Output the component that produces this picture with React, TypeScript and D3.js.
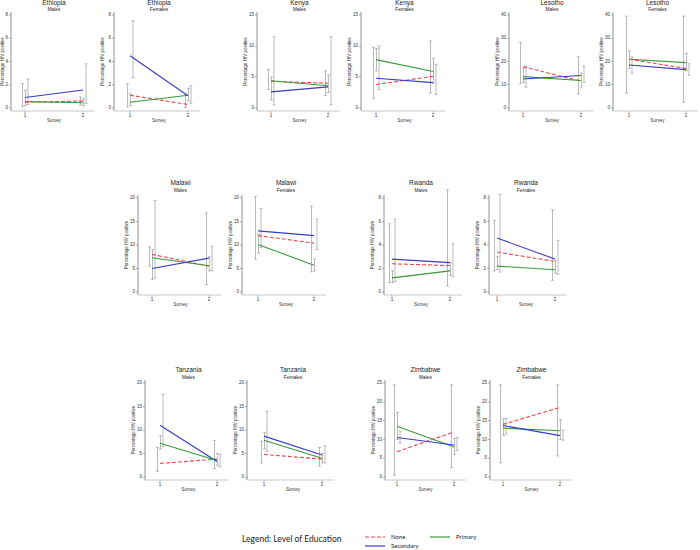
import React from "react";
import * as d3 from "d3";

// ---- data ----
const countries = ["Ethiopia", "Ethiopia", "Kenya", "Kenya", "Lesotho", "Lesotho", "Malawi", "Malawi", "Rwanda", "Rwanda", "Tanzania", "Tanzania", "Zimbabwe", "Zimbabwe"];
const sexes = ["Males", "Females", "Males", "Females", "Males", "Females", "Males", "Females", "Males", "Females", "Males", "Females", "Males", "Females"];
const yMaxes = [8, 8, 15, 15, 40, 40, 20, 20, 8, 8, 20, 20, 25, 25];
const ySteps = [2, 2, 5, 5, 10, 10, 5, 5, 2, 2, 5, 5, 5, 5];
const surveys = [1, 2];

const noneVals = [[0.5, 0.6], [1.1, 0.3], [4.3, 4.0], [3.8, 5.1], [17.8, 11.5], [21, 17], [8.0, 5.5], [12, 10.4], [2.4, 2.25], [3.4, 2.6], [2.9, 3.8], [4.8, 3.8], [6.7, 12], [14, 18.5]];
const primaryVals = [[0.55, 0.45], [0.5, 1.1], [4.4, 3.6], [7.8, 5.9], [13.5, 11.8], [21, 19.5], [7.3, 5.6], [10.1, 5.7], [1.2, 1.8], [2.2, 1.9], [7.2, 3.5], [7.8, 4.0], [13.5, 8.0], [13.0, 12.3]];
const secondaryVals = [[0.9, 1.55], [4.5, 1.05], [2.6, 3.4], [4.8, 4.1], [12.5, 14], [18.5, 16.5], [5.0, 7.2], [13, 12], [2.8, 2.5], [4.6, 2.8], [11, 3.3], [8.7, 4.7], [10.5, 8.5], [13.7, 11.0]];

const noneCI = [[[0.15, 2.1], [0.25, 0.95]], [[0.1, 2.1], [0.05, 1.2]], [[3.0, 6.2], [2.0, 6.0]], [[1.5, 9.8], [2.4, 10.8]], [[10.5, 28.2], [6, 22]], [[6.5, 39.5], [2.5, 39.5]], [[5.5, 9.6], [1.6, 16.8]], [[7, 20.3], [4.3, 18.3]], [[0.8, 5.8], [0.5, 8.7]], [[1.8, 6.1], [1.0, 7.0]], [[1.2, 6.3], [1.8, 7.8]], [[3.0, 7.6], [2.3, 6.3]], [[0.5, 24.5], [2.5, 24.5]], [[3.8, 24.5], [5.6, 24.5]]];
const primaryCI = [[[0.2, 1.5], [0.2, 0.8]], [[0.2, 1.2], [0.6, 1.7]], [[1.3, 5.0], [2.5, 5.3]], [[6.0, 9.6], [4.0, 8.0]], [[11, 17], [9, 15]], [[17, 24.5], [16, 23.5]], [[2.7, 9.0], [4.5, 7.5]], [[8.3, 12.3], [4.5, 7.0]], [[0.8, 1.8], [1.4, 2.5]], [[1.9, 3.0], [1.6, 2.7]], [[6.0, 8.8], [2.5, 5.0]], [[6.0, 9.5], [3.0, 5.0]], [[10, 17.2], [6, 10.3]], [[11, 15.5], [10, 15.3]]];
const secondaryCI = [[[0.3, 2.5], [0.4, 3.8]], [[2.6, 7.5], [0.4, 1.9]], [[0.5, 11.5], [0.5, 11.5]], [[3.0, 10.0], [2.2, 7.0]], [[9, 18], [11, 18]], [[15, 22], [14, 19]], [[3.0, 19.5], [4.5, 9.7]], [[9.5, 17.8], [9, 15.5]], [[0.9, 6.2], [1.3, 4.1]], [[1.7, 8.3], [1.5, 4.4]], [[6.5, 17.6], [2.2, 4.8]], [[5.5, 14], [3.0, 6.6]], [[9, 12.2], [7, 10.5]], [[11.5, 15.6], [9.8, 12.5]]];

const legendNames = ["None", "Primary", "Secondary"];
const legendTitle = "Legend: Level of Education";

// ---- layout ----
const panelAxisX = [11, 114, 257, 361, 509, 613, 138, 242, 384, 489, 145, 247, 385, 490];
const panelP1 = [25, 130, 271, 376, 523, 629, 152, 258, 392, 497, 160, 264, 397, 503];
const panelP2 = [83, 188, 328, 433, 581, 686, 209, 314, 450, 555, 217, 322, 454, 560];
const panelRow = [0, 0, 0, 0, 0, 0, 1, 1, 1, 1, 2, 2, 2, 2];
const rowTitleY = [3.2, 183.5, 370.5];
const rowSubY = [10, 191, 377.5];
const rowTop = [15, 198, 383];
const rowZero = [108, 292, 477];

const COLORS: Record<string, string> = { None: "#e5484d", Primary: "#3a9a3a", Secondary: "#3b3bc4" };
const DASH: Record<string, string | undefined> = { None: "4,2", Primary: undefined, Secondary: undefined };
const CI_OFFSET: Record<string, number> = { None: -2.5, Primary: 0.5, Secondary: 3 };
const FONT = "'Liberation Sans', Arial, sans-serif";

function Panel({ i }: { i: number }) {
  const r = panelRow[i];
  const y = d3.scaleLinear().domain([0, yMaxes[i]]).range([rowZero[r], rowTop[r]]);
  const x = d3.scaleLinear().domain([1, 2]).range([panelP1[i], panelP2[i]]);
  const ax = panelAxisX[i];
  const ticks = d3.range(0, yMaxes[i] + 0.001, ySteps[i]);
  const series = [
    { name: "None", vals: noneVals[i], ci: noneCI[i] },
    { name: "Primary", vals: primaryVals[i], ci: primaryCI[i] },
    { name: "Secondary", vals: secondaryVals[i], ci: secondaryCI[i] },
  ];
  const line = d3.line<number>().x((_, k) => x(surveys[k])).y((v) => y(v));
  const cx = (panelP1[i] + panelP2[i]) / 2;
  const midY = (rowTop[r] + rowZero[r]) / 2;
  return (
    <g>
      <text x={cx} y={rowTitleY[r]} textAnchor="middle" dominantBaseline="middle" fontSize={6.5} fill="#222" fontFamily={FONT}>{countries[i]}</text>
      <text x={cx} y={rowSubY[r]} textAnchor="middle" dominantBaseline="middle" fontSize={4.8} fill="#222" fontFamily={FONT}>{sexes[i]}</text>
      {/* y axis */}
      <line x1={ax} x2={ax} y1={rowTop[r] - 3} y2={rowZero[r] + 3} stroke="#777" strokeWidth={0.8} />
      {ticks.map((t) => (
        <g key={t}>
          <line x1={ax - 2} x2={ax} y1={y(t)} y2={y(t)} stroke="#777" strokeWidth={0.6} />
          <text x={ax - 3} y={y(t)} textAnchor="end" dominantBaseline="middle" fontSize={4.5} fill="#333" fontFamily={FONT}>{t}</text>
        </g>
      ))}
      <text transform={`translate(${Math.max(ax - 11, 2.5)},${midY}) rotate(-90)`} textAnchor="middle" dominantBaseline="middle" fontSize={4.5} fill="#333" fontFamily={FONT}>Percentage HIV positive</text>
      {/* x axis */}
      <line x1={ax} x2={panelP2[i] + 12} y1={rowZero[r] + 3} y2={rowZero[r] + 3} stroke="#bbb" strokeWidth={0.8} />
      {surveys.map((s) => (
        <g key={s}>
          <line x1={x(s)} x2={x(s)} y1={rowZero[r] + 3} y2={rowZero[r] + 5} stroke="#999" strokeWidth={0.6} />
          <text x={x(s)} y={rowZero[r] + 8} textAnchor="middle" dominantBaseline="middle" fontSize={4.5} fill="#333" fontFamily={FONT}>{s}</text>
        </g>
      ))}
      <text x={cx} y={rowZero[r] + 12.5} textAnchor="middle" dominantBaseline="middle" fontSize={4.5} fill="#333" fontFamily={FONT}>Survey</text>
      {/* error bars */}
      {series.map((se) =>
        surveys.map((s, k) => {
          const ex = x(s) + CI_OFFSET[se.name];
          const [lo, hi] = se.ci[k];
          return (
            <g key={se.name + s} stroke="#a8a8a8" strokeWidth={0.8}>
              <line x1={ex} x2={ex} y1={y(lo)} y2={y(hi)} />
              <line x1={ex - 1.5} x2={ex + 1.5} y1={y(lo)} y2={y(lo)} />
              <line x1={ex - 1.5} x2={ex + 1.5} y1={y(hi)} y2={y(hi)} />
            </g>
          );
        })
      )}
      {/* lines */}
      {series.map((se) => (
        <path key={se.name} d={line(se.vals) || ""} fill="none" stroke={COLORS[se.name]} strokeWidth={1.1} strokeDasharray={DASH[se.name]} />
      ))}
    </g>
  );
}

export default function App() {
  const legendItems = [
    { name: legendNames[0], x: 365, y: 537 },
    { name: legendNames[1], x: 430, y: 537 },
    { name: legendNames[2], x: 365, y: 546 },
  ];
  return (
    <svg width={700} height={550} style={{ position: "absolute", left: 0, top: 0, background: "#fff" }}>
      <rect width={700} height={550} fill="#fff" />
      {countries.map((_, i) => (
        <Panel key={i} i={i} />
      ))}
      <text x={242} y={540} dominantBaseline="middle" fontSize={8.5} fill="#222" fontFamily="Lato, 'Open Sans', sans-serif">{legendTitle}</text>
      {legendItems.map((it) => (
        <g key={it.name}>
          <line x1={it.x} x2={it.x + 20} y1={it.y} y2={it.y} stroke={COLORS[it.name]} strokeWidth={1.2} strokeDasharray={DASH[it.name]} />
          <text x={it.x + 26} y={it.y} dominantBaseline="middle" fontSize={6} fill="#222" fontFamily="Lato, 'Open Sans', sans-serif">{it.name}</text>
        </g>
      ))}
    </svg>
  );
}
